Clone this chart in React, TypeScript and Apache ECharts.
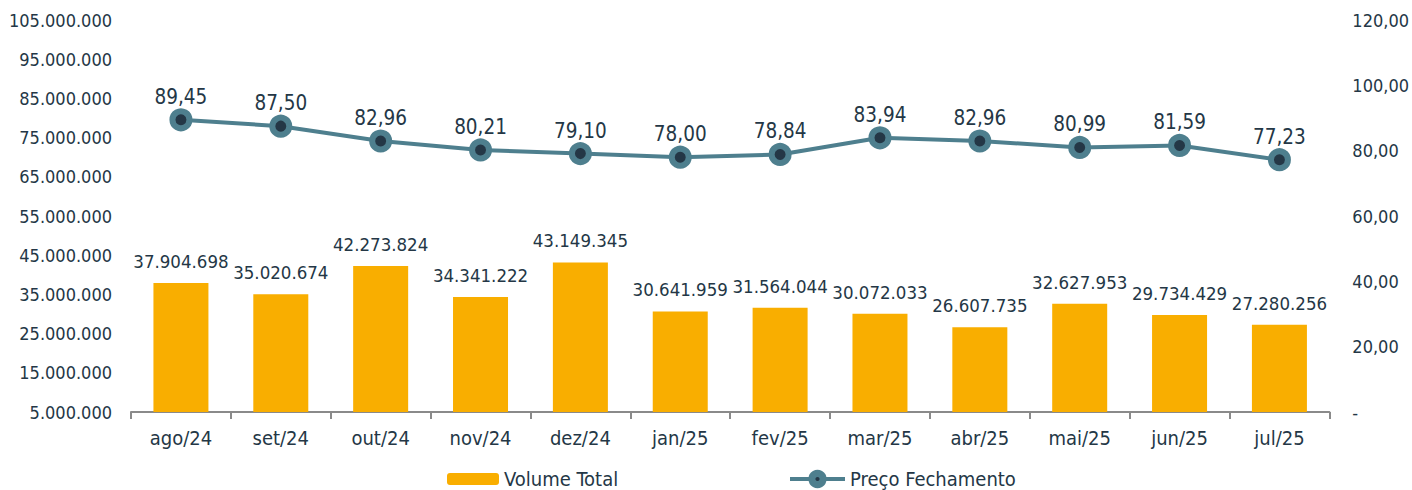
import React, { useEffect, useRef } from "react";
import * as echarts from "echarts";

const categories = ["ago/24", "set/24", "out/24", "nov/24", "dez/24", "jan/25", "fev/25", "mar/25", "abr/25", "mai/25", "jun/25", "jul/25"];
const volumeTotal = [37904698, 35020674, 42273824, 34341222, 43149345, 30641959, 31564044, 30072033, 26607735, 32627953, 29734429, 27280256];
const precoFechamento = [89.45, 87.5, 82.96, 80.21, 79.1, 78.0, 78.84, 83.94, 82.96, 80.99, 81.59, 77.23];
const leftTicks = [5000000, 15000000, 25000000, 35000000, 45000000, 55000000, 65000000, 75000000, 85000000, 95000000, 105000000];

const TXT = "#243746";
const LINE = "#4E7F8E";
const BAR = "#F9AE00";
const FONT = "'DejaVu Sans Condensed', 'DejaVu Sans', sans-serif";

const fmtInt = (v: number) => Math.round(v).toString().replace(/\B(?=(\d{3})+(?!\d))/g, ".");
const fmtDec = (v: number) => (v === 0 ? "-" : v.toFixed(2).replace(".", ","));

export default function App() {
  const ref = useRef<HTMLDivElement>(null);
  useEffect(() => {
    if (!ref.current) return;
    const chart = echarts.init(ref.current, undefined, { renderer: "svg" });
    chart.setOption({
      animation: false,
      textStyle: { fontFamily: FONT, color: TXT },
      grid: { left: 131, right: 82, top: 20, bottom: 78 },
      legend: [
        {
          top: 469,
          left: 447,
          padding: 0,
          itemWidth: 52,
          itemHeight: 12,
          itemGap: 5,
          textStyle: { fontFamily: FONT, fontSize: 20, color: TXT },
          data: [{ name: "Volume Total", itemStyle: { color: BAR } }],
        },
        {
          top: 469,
          left: 788,
          padding: 0,
          itemWidth: 55,
          itemHeight: 14,
          textStyle: { fontFamily: FONT, fontSize: 20, color: TXT },
          data: [
            {
              name: "Preço Fechamento",
              itemStyle: { color: TXT, borderColor: LINE, borderWidth: 7 },
              lineStyle: { color: LINE, width: 4 },
            },
          ],
        },
      ],
      xAxis: {
        type: "category",
        data: categories,
        axisLine: { show: true, lineStyle: { color: "#8a8a8a", width: 2 } },
        axisTick: { show: true, alignWithLabel: false, length: 7, lineStyle: { color: "#8a8a8a", width: 2 } },
        axisLabel: { fontFamily: FONT, fontSize: 20, color: TXT, margin: 16 },
      },
      yAxis: [
        {
          type: "value",
          min: 5000000,
          max: 105000000,
          splitLine: { show: false },
          axisLine: { show: false },
          axisTick: { show: false },
          axisLabel: {
            customValues: leftTicks,
            fontFamily: FONT,
            fontSize: 18,
            color: TXT,
            margin: 19,
            formatter: (v: number) => fmtInt(v),
          },
        },
        {
          type: "value",
          min: 0,
          max: 120,
          interval: 20,
          splitLine: { show: false },
          axisLine: { show: false },
          axisTick: { show: false },
          axisLabel: {
            fontFamily: FONT,
            fontSize: 18,
            color: TXT,
            margin: 23,
            formatter: (v: number) => fmtDec(v),
          },
        },
      ],
      series: [
        {
          name: "Volume Total",
          type: "bar",
          yAxisIndex: 0,
          data: volumeTotal,
          barWidth: 55,
          itemStyle: { color: BAR },
          label: {
            show: true,
            position: "top",
            distance: 12,
            fontFamily: FONT,
            fontSize: 18.5,
            color: TXT,
            formatter: (p: any) => fmtInt(p.value),
          },
        },
        {
          name: "Preço Fechamento",
          type: "line",
          yAxisIndex: 1,
          data: precoFechamento,
          symbol: "circle",
          symbolSize: 17,
          lineStyle: { color: LINE, width: 4 },
          itemStyle: { color: TXT, borderColor: LINE, borderWidth: 6 },
          label: {
            show: true,
            position: "top",
            distance: 1,
            fontFamily: FONT,
            fontSize: 20.5,
            color: TXT,
            formatter: (p: any) => fmtDec(p.value),
          },
        },
      ],
    });
    return () => chart.dispose();
  }, []);
  return <div ref={ref} style={{ width: 1412, height: 490, position: "absolute", left: 0, top: 0 }} />;
}
